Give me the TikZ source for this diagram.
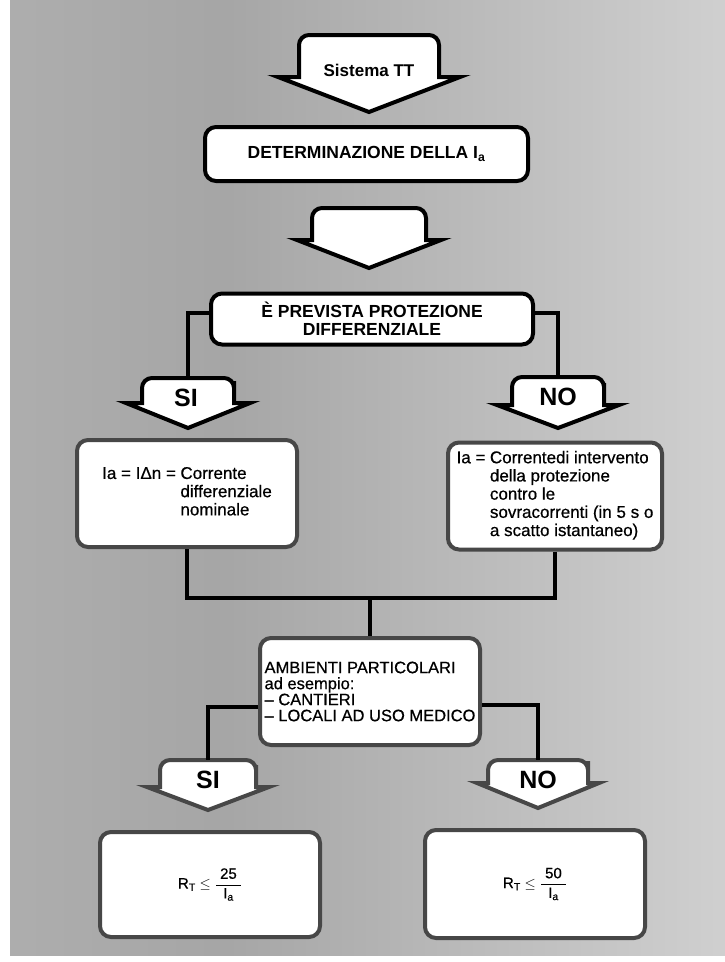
\documentclass[tikz,border=0pt]{standalone}
\usepackage{fontspec}
\setmainfont{Liberation Sans}
\newfontfamily\medfont[FakeBold=0.6]{Liberation Sans}
\usepackage{amsmath}
\pgfdeclarehorizontalshading{bgshade}{100bp}{color(0bp)=(black!27); color(40bp)=(black!35); color(72bp)=(black!20); color(100bp)=(black!7)}
\newcommand{\flowarr}[8]{% #1 style, #2 name, #3 cx, #4 top, #5 half box, #6 barb y, #7 half barb, #8 tip y
  \draw[#1] [rounded corners=10pt] (#3,#4) -- ({#3+#5},#4) -- ({#3+#5},{#6-12}) [sharp corners] -- ({#3+#5},#6) -- ({#3+#7},#6) -- (#3,#8) -- ({#3-#7},#6) -- ({#3-#5},#6) -- ({#3-#5},{#6-12}) [rounded corners=10pt] -- ({#3-#5},#4) -- cycle;
  \coordinate (#2) at (#3,#4);
}
\tikzset{
  box/.style={draw=black, line width=4pt, fill=white, rounded corners=11pt, inner sep=0pt},
  greybox/.style={box, draw=black!72},
  conn/.style={line width=4pt, draw=black},
  arr/.style={draw=black, line width=4pt, fill=white, line join=miter},
  garr/.style={arr, draw=black!72},
  titletext/.style={font=\fontsize{17.5}{18}\selectfont\bfseries, align=center},
  bodytext/.style={font=\medfont\fontsize{17}{18.2}\selectfont, align=left},
  bigtext/.style={font=\fontsize{25}{25}\selectfont\bfseries},
  formtext/.style={font=\medfont\fontsize{15}{17}\selectfont},
}
\begin{document}
\begin{tikzpicture}[x=1pt, y=-1pt]
\useasboundingbox (0,0) rectangle (725,962);
\fill[white] (0,0) rectangle (725,962);
\shade[shading=bgshade] (10,0) rectangle (725,955);

% arrows
\flowarr{arr}{a1}{369}{35}{70}{77}{91}{112}
\node[font=\fontsize{17}{18}\selectfont\bfseries] (sist) at (369,70) {Sistema TT};
\flowarr{arr}{a2}{369}{208}{57}{240}{72}{268}

% boxes
\node[box, minimum width=323pt, minimum height=54pt, titletext] (det) at (366.5,154) {DETERMINAZIONE DELLA I\textsubscript{a}};
\node[box, minimum width=322pt, minimum height=51pt, titletext] (prev) at (372,319) {È PREVISTA PROTEZIONE\\DIFFERENZIALE};

\flowarr{arr}{si1}{188}{378}{46}{403}{62}{428}
\node[bigtext] (si1t) at (186,398) {SI};
\flowarr{arr}{no1}{558}{377}{46}{405}{61}{428}
\node[bigtext] (no1t) at (558,397) {NO};

\draw[conn] (prev.west |- 0,313) -| (si1);
\draw[conn] (prev.east |- 0,313) -| (no1);

\node[greybox, minimum width=220pt, minimum height=107pt, bodytext] (lb) at (187,493.5)
  {\begin{tabular}{@{}l@{\hspace{4.5pt}}l@{}}Ia = IΔn = &Corrente\\ &differenziale\\ &nominale\end{tabular}};
\node[greybox, minimum width=214pt, minimum height=107pt, bodytext] (rb) at (555,496)
  {\begin{tabular}{@{}l@{\hspace{4.5pt}}l@{}}Ia = &Correntedi intervento\\ &della protezione\\ &contro le\\ &sovracorrenti (in 5 s o\\ &a scatto istantaneo)\end{tabular}};

\node[greybox, minimum width=220pt, minimum height=107pt, font=\medfont\fontsize{16.5}{16}\selectfont, align=left] (amb) at (370,691.5)
  {AMBIENTI PARTICOLARI\\ad esempio:\\– CANTIERI\\– LOCALI AD USO MEDICO};

\coordinate (jn) at (amb.north |- 0,598);
\draw[conn] (lb.south) |- (jn);
\draw[conn] (rb.south) |- (jn);
\draw[conn] (jn) -- (amb.north);

\flowarr{garr}{si2}{208}{760}{48}{787}{61}{810}
\node[bigtext] (si2t) at (208,780) {SI};
\flowarr{garr}{no2}{538}{760}{50}{783}{61}{808}
\node[bigtext] (no2t) at (538,780) {NO};

\draw[conn] (amb.west |- 0,707) -| (si2);
\draw[conn] (amb.east |- 0,705) -| (no2);

\node[greybox, minimum width=220pt, minimum height=105pt, formtext] (bl) at (210,884.5)
  {$\text{R}_{\text{T}}\le\dfrac{\;\text{25}\;}{\text{I}_{\text{a}}}$};
\node[greybox, minimum width=220pt, minimum height=108pt, formtext] (br) at (535,884)
  {$\text{R}_{\text{T}}\le\dfrac{\;\text{50}\;}{\text{I}_{\text{a}}}$};
\end{tikzpicture}
\end{document}
